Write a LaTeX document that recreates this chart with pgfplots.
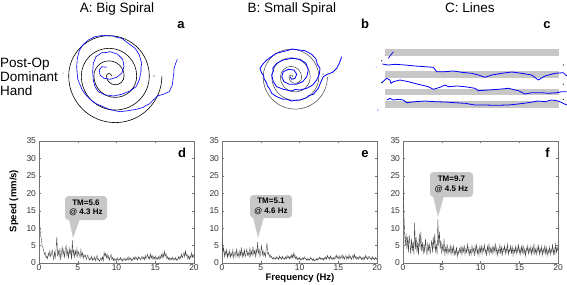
\documentclass[border=0pt]{standalone}
\usepackage{fontspec}
\setmainfont{Liberation Sans}
\usepackage{pgfplots}
\pgfplotsset{compat=1.18}
\begin{document}
\begin{tikzpicture}
\pgfplotsset{
  spec/.style={
    scale only axis, width=155pt, height=122pt,
    xmin=0,xmax=20,ymin=0,ymax=35,
    xtick={0,5,10,15,20}, ytick={0,5,...,35},
    tick align=inside, major tick length=2pt,
    axis line style={black!55, line width=0.4pt},
    every tick/.style={black!55, line width=0.4pt},
    tick label style={font=\fontsize{8.5}{9}\selectfont, text=black!80},
    xticklabel style={yshift=1.8pt},
    yticklabel style={xshift=0.5pt},
    /pgf/number format/assume math mode=true,
    clip=true,
  },
  trace/.style={black!75, line width=0.35pt, mark=none},
}
% ---------- panel d ----------
\begin{axis}[spec, at={(39pt,21pt)}, anchor=south west]
\addplot[trace] coordinates {
(0,14)(0.1,11)(0.2,8)(0.3,7)(0.4,5)(0.5,4.5)(0.6,3.5)(0.7,2.5)(0.8,3.0)(0.9,1.5)
(1.0,2.0)(1.1,1.2)(1.2,2.8)(1.3,2.0)(1.4,3.5)(1.5,1.8)(1.6,2.5)(1.7,3.8)(1.8,2.2)(1.9,1.0)
(2.0,3.2)(2.1,1.5)(2.2,4.0)(2.3,7.5)(2.4,2.0)(2.5,3.5)(2.6,1.8)(2.7,4.2)(2.8,0.8)(2.9,3.0)
(3.0,4.5)(3.1,2.2)(3.2,3.8)(3.3,1.5)(3.4,4.0)(3.5,5.0)(3.6,2.0)(3.7,3.6)(3.8,1.2)(3.9,4.2)
(4.0,2.5)(4.1,3.8)(4.2,1.0)(4.3,6.5)(4.4,2.0)(4.5,4.0)(4.6,1.5)(4.7,3.5)(4.8,2.2)(4.9,4.2)
(5.0,1.8)(5.1,3.2)(5.2,2.5)(5.3,1.5)(5.4,3.8)(5.5,2.0)(5.6,3.0)(5.7,1.2)(5.8,2.5)(5.9,1.8)
(6.0,2.2)(6.1,1.0)(6.2,1.8)(6.3,2.3)(6.4,1.2)(6.5,0.8)(6.6,1.5)(6.7,1.0)(6.8,2.0)(6.9,0.7)
(7.0,1.3)(7.1,0.9)(7.2,1.8)(7.3,0.6)(7.4,1.4)(7.5,2.2)(7.6,0.8)(7.7,1.2)(7.8,0.5)(7.9,1.0)
(8.0,1.5)(8.1,0.8)(8.2,1.8)(8.3,0.6)(8.4,3.0)(8.5,2.0)(8.6,2.8)(8.7,1.5)(8.8,2.5)(8.9,1.2)
(9.0,2.0)(9.1,0.8)(9.2,1.8)(9.3,2.5)(9.4,1.0)(9.5,1.6)(9.6,0.7)(9.7,1.3)(9.8,0.6)(9.9,1.1)
(10.0,0.8)(10.1,1.5)(10.2,0.6)(10.3,1.2)(10.4,0.9)(10.5,1.6)(10.6,0.7)(10.7,1.3)(10.8,0.5)(10.9,1.0)
(11.0,1.4)(11.1,0.6)(11.2,1.2)(11.3,0.8)(11.4,1.5)(11.5,0.7)(11.6,1.8)(11.7,1.0)(11.8,1.4)(11.9,0.6)
(12.0,1.2)(12.1,0.8)(12.2,1.6)(12.3,1.0)(12.4,1.9)(12.5,1.1)(12.6,1.5)(12.7,0.8)(12.8,1.8)(12.9,1.2)
(13.0,1.6)(13.1,0.9)(13.2,1.4)(13.3,2.0)(13.4,1.1)(13.5,1.7)(13.6,0.9)(13.7,2.2)(13.8,1.2)(13.9,1.8)
(14.0,2.5)(14.1,1.3)(14.2,2.0)(14.3,1.0)(14.4,2.6)(14.5,1.4)(14.6,2.2)(14.7,1.0)(14.8,1.8)(14.9,1.2)
(15.0,2.0)(15.1,0.9)(15.2,1.6)(15.3,1.1)(15.4,1.8)(15.5,1.0)(15.6,2.1)(15.7,1.3)(15.8,2.5)(15.9,1.5)
(16.0,2.8)(16.1,1.6)(16.2,3.4)(16.3,2.0)(16.4,2.6)(16.5,1.2)(16.6,1.9)(16.7,1.0)(16.8,1.6)(16.9,0.8)
(17.0,1.4)(17.1,1.0)(17.2,1.7)(17.3,0.8)(17.4,1.3)(17.5,1.0)(17.6,1.6)(17.7,0.7)(17.8,1.2)(17.9,0.9)
(18.0,1.8)(18.1,1.1)(18.2,2.0)(18.3,1.3)(18.4,2.6)(18.5,1.5)(18.6,2.2)(18.7,3.0)(18.8,1.8)(18.9,3.5)
(19.0,2.0)(19.1,2.6)(19.2,1.2)(19.3,2.0)(19.4,1.0)(19.5,2.2)(19.6,1.4)(19.7,3.0)(19.8,1.6)(19.9,2.4)
(20.0,1.5)};
\end{axis}
% ---------- panel e ----------
\begin{axis}[spec, at={(222pt,21pt)}, anchor=south west]
\addplot[trace] coordinates {
(0,7.5)(0.1,3)(0.2,4.5)(0.3,1.8)(0.4,3.5)(0.5,2.2)(0.6,3.8)(0.7,1.5)(0.8,3.0)(0.9,2.0)
(1.0,3.6)(1.1,1.6)(1.2,2.8)(1.3,2.0)(1.4,3.8)(1.5,1.5)(1.6,2.6)(1.7,3.2)(1.8,1.8)(1.9,4.2)
(2.0,2.0)(2.1,2.8)(2.2,1.5)(2.3,3.5)(2.4,2.2)(2.5,4.5)(2.6,1.6)(2.7,3.2)(2.8,2.0)(2.9,3.8)
(3.0,1.8)(3.1,2.6)(3.2,4.0)(3.3,2.2)(3.4,3.0)(3.5,1.8)(3.6,4.5)(3.7,2.0)(3.8,3.4)(3.9,2.2)
(4.0,4.8)(4.1,2.5)(4.2,3.6)(4.3,1.8)(4.4,4.0)(4.5,2.5)(4.6,6.0)(4.7,2.8)(4.8,3.8)(4.9,1.8)
(5.0,3.2)(5.1,5.0)(5.2,2.4)(5.3,3.6)(5.4,2.0)(5.5,3.0)(5.6,1.8)(5.7,4.0)(5.8,5.8)(5.9,2.5)
(6.0,3.0)(6.1,1.8)(6.2,2.4)(6.3,1.5)(6.4,1.9)(6.5,1.2)(6.6,1.6)(6.7,1.0)(6.8,1.5)(6.9,1.1)
(7.0,1.8)(7.1,1.2)(7.2,1.6)(7.3,1.0)(7.4,2.0)(7.5,1.3)(7.6,1.7)(7.7,1.0)(7.8,1.9)(7.9,1.2)
(8.0,1.5)(8.1,1.0)(8.2,1.8)(8.3,1.1)(8.4,2.2)(8.5,1.4)(8.6,1.9)(8.7,1.2)(8.8,2.0)(8.9,1.3)
(9.0,2.4)(9.1,1.5)(9.2,2.8)(9.3,1.4)(9.4,2.5)(9.5,1.2)(9.6,1.8)(9.7,0.9)(9.8,1.5)(9.9,1.0)
(10.0,1.6)(10.1,0.8)(10.2,1.3)(10.3,0.9)(10.4,1.5)(10.5,1.0)(10.6,1.8)(10.7,1.2)(10.8,1.4)(10.9,0.8)
(11.0,1.3)(11.1,0.7)(11.2,1.2)(11.3,0.8)(11.4,1.6)(11.5,1.0)(11.6,1.4)(11.7,0.7)(11.8,1.2)(11.9,0.6)
(12.0,1.0)(12.1,0.7)(12.2,1.3)(12.3,0.8)(12.4,1.5)(12.5,1.0)(12.6,1.7)(12.7,1.1)(12.8,1.5)(12.9,0.9)
(13.0,1.4)(13.1,0.8)(13.2,1.6)(13.3,1.0)(13.4,1.8)(13.5,1.1)(13.6,2.2)(13.7,1.3)(13.8,1.7)(13.9,1.0)
(14.0,2.0)(14.1,1.2)(14.2,1.6)(14.3,0.9)(14.4,1.5)(14.5,1.1)(14.6,2.0)(14.7,1.3)(14.8,2.3)(14.9,1.4)
(15.0,1.8)(15.1,1.0)(15.2,2.1)(15.3,1.3)(15.4,1.6)(15.5,2.4)(15.6,1.2)(15.7,2.0)(15.8,1.1)(15.9,1.7)
(16.0,2.2)(16.1,1.0)(16.2,1.8)(16.3,1.2)(16.4,2.4)(16.5,1.3)(16.6,1.9)(16.7,1.0)(16.8,1.6)(16.9,2.3)
(17.0,1.2)(17.1,2.5)(17.2,1.4)(17.3,1.9)(17.4,1.0)(17.5,1.6)(17.6,1.1)(17.7,2.0)(17.8,1.3)(17.9,1.8)
(18.0,1.0)(18.1,1.5)(18.2,0.9)(18.3,1.7)(18.4,1.1)(18.5,2.2)(18.6,1.3)(18.7,1.8)(18.8,1.0)(18.9,1.6)
(19.0,2.0)(19.1,1.2)(19.2,1.5)(19.3,0.9)(19.4,1.8)(19.5,1.1)(19.6,1.5)(19.7,0.9)(19.8,1.6)(19.9,1.0)
(20.0,1.4)};
\end{axis}
% ---------- panel f ----------
\begin{axis}[spec, at={(403pt,21pt)}, anchor=south west]
\addplot[trace] coordinates {
(0,22)(0.1,15)(0.2,9)(0.3,5)(0.4,8.5)(0.5,4)(0.6,7.5)(0.7,3)(0.8,8)(0.9,5.5)
(1.0,2.5)(1.1,7)(1.2,3.5)(1.3,6)(1.4,2.5)(1.5,11.5)(1.6,4)(1.7,7.5)(1.8,3)(1.9,6)
(2.0,2.2)(2.1,8.5)(2.2,4)(2.3,9)(2.4,3.5)(2.5,6)(2.6,2.5)(2.7,5.5)(2.8,3)(2.9,7)
(3.0,4)(3.1,2.2)(3.2,6)(3.3,3.5)(3.4,5.5)(3.5,2.5)(3.6,4.5)(3.7,6.5)(3.8,3)(3.9,7.5)
(4.0,4)(4.1,8.5)(4.2,3)(4.3,5.5)(4.4,2.5)(4.5,12.5)(4.6,5)(4.7,9)(4.8,4)(4.9,6.5)
(5.0,2.5)(5.1,5)(5.2,3.5)(5.3,7)(5.4,2)(5.5,4.5)(5.6,3)(5.7,5.5)(5.8,2.5)(5.9,4)
(6.0,3.2)(6.1,5)(6.2,2.2)(6.3,4.5)(6.4,3)(6.5,5.2)(6.6,2)(6.7,3.8)(6.8,2.6)(6.9,4.6)
(7.0,1.8)(7.1,3.5)(7.2,2.5)(7.3,4.2)(7.4,3)(7.5,5)(7.6,2.2)(7.7,4.4)(7.8,3.2)(7.9,5.2)
(8.0,2.4)(8.1,4)(8.2,3)(8.3,5.6)(8.4,2.8)(8.5,4.5)(8.6,2.2)(8.7,3.8)(8.8,2.5)(8.9,5)
(9.0,3.2)(9.1,4.2)(9.2,2)(9.3,4.8)(9.4,3)(9.5,5.4)(9.6,2.6)(9.7,4)(9.8,2.2)(9.9,4.6)
(10.0,3)(10.1,5.2)(10.2,2.4)(10.3,4.4)(10.4,3.4)(10.5,5.5)(10.6,2.8)(10.7,4)(10.8,2)(10.9,4.8)
(11.0,3.2)(11.1,5.6)(11.2,2.6)(11.3,4.2)(11.4,3)(11.5,5)(11.6,2.4)(11.7,4.6)(11.8,3.4)(11.9,5.8)
(12.0,2.8)(12.1,4.4)(12.2,2.2)(12.3,4)(12.4,3)(12.5,5.4)(12.6,2.6)(12.7,4.8)(12.8,2)(12.9,4.2)
(13.0,3.4)(13.1,5)(13.2,2.6)(13.3,4.4)(13.4,3)(13.5,5.6)(13.6,2.4)(13.7,4)(13.8,3.2)(13.9,5.2)
(14.0,2.6)(14.1,4.6)(14.2,2.2)(14.3,4)(14.4,3)(14.5,5)(14.6,2.4)(14.7,4.4)(14.8,3.2)(14.9,5.4)
(15.0,2.8)(15.1,4.2)(15.2,2.4)(15.3,4.8)(15.4,3)(15.5,5.2)(15.6,2.6)(15.7,4)(15.8,2)(15.9,4.4)
(16.0,3.2)(16.1,5)(16.2,2.6)(16.3,4.2)(16.4,3)(16.5,4.8)(16.6,2.2)(16.7,4.4)(16.8,3)(16.9,5.6)
(17.0,2.6)(17.1,4)(17.2,2.4)(17.3,4.6)(17.4,3.2)(17.5,5)(17.6,2.4)(17.7,4.2)(17.8,3)(17.9,4.8)
(18.0,2.2)(18.1,4)(18.2,3)(18.3,5.2)(18.4,2.6)(18.5,4.4)(18.6,2)(18.7,3.8)(18.8,2.8)(18.9,4.6)
(19.0,2.4)(19.1,4)(19.2,3)(19.3,5.5)(19.4,2.6)(19.5,4.2)(19.6,2.2)(19.7,5.8)(19.8,3)(19.9,4.5)
(20.0,3.5)};
\end{axis}
% ---------- overlay (pixel coordinates, y downward) ----------
\begin{axis}[hide axis, scale only axis, x=1pt, y=1pt, y dir=reverse,
  xmin=0, xmax=567, ymin=0, ymax=284, clip=false,
  at={(0pt,0pt)}, anchor=south west]
% titles
\node[anchor=base, font=\fontsize{13.5}{14}\selectfont] at (axis cs:117,12) {A: Big Spiral};
\node[anchor=base, font=\fontsize{13.5}{14}\selectfont] at (axis cs:292,12) {B: Small Spiral};
\node[anchor=base, font=\fontsize{13.5}{14}\selectfont] at (axis cs:470,12) {C: Lines};
\node[anchor=base, font=\bfseries\fontsize{13}{14}\selectfont] at (axis cs:181,28.5) {a};
\node[anchor=base, font=\bfseries\fontsize{13}{14}\selectfont] at (axis cs:365,28.5) {b};
\node[anchor=base, font=\bfseries\fontsize{13}{14}\selectfont] at (axis cs:547,28.5) {c};
\node[anchor=base west, inner sep=0pt, font=\fontsize{13.5}{14}\selectfont] at (axis cs:0,67) {Post-Op};
\node[anchor=base west, inner sep=0pt, font=\fontsize{13.5}{14}\selectfont] at (axis cs:0,81) {Dominant};
\node[anchor=base west, inner sep=0pt, font=\fontsize{13.5}{14}\selectfont] at (axis cs:0,95.5) {Hand};
% panel letters d e f
\node[anchor=base, font=\bfseries\fontsize{13}{14}\selectfont] at (axis cs:182,157) {d};
\node[anchor=base, font=\bfseries\fontsize{13}{14}\selectfont] at (axis cs:365,157) {e};
\node[anchor=base, font=\bfseries\fontsize{13}{14}\selectfont] at (axis cs:547.5,157) {f};
% axis labels
\node[rotate=90, font=\bfseries\fontsize{9.5}{10}\selectfont] at (axis cs:14,201) {Speed (mm/s)};
\node[anchor=base, inner sep=0pt, font=\bfseries\fontsize{9.5}{10}\selectfont] at (axis cs:300,280.5) {Frequency (Hz)};
% callouts
\fill[black!22, rounded corners=3.5pt] (axis cs:65,196) rectangle (axis cs:107,220);
\fill[black!22] (axis cs:69,219) -- (axis cs:80,219) -- (axis cs:73,238) -- cycle;
\node[align=center, inner sep=0pt, font=\bfseries\fontsize{8}{9.5}\selectfont] at (axis cs:86,208) {TM=5.6\\@ 4.3 Hz};
\fill[black!22, rounded corners=3.5pt] (axis cs:250,195) rectangle (axis cs:292,218);
\fill[black!22] (axis cs:253,217) -- (axis cs:264,217) -- (axis cs:258,238) -- cycle;
\node[align=center, inner sep=0pt, font=\bfseries\fontsize{8}{9.5}\selectfont] at (axis cs:271,206.5) {TM=5.1\\@ 4.6 Hz};
\fill[black!22, rounded corners=3.5pt] (axis cs:430,172) rectangle (axis cs:473,197);
\fill[black!22] (axis cs:433,196) -- (axis cs:444,196) -- (axis cs:438,217) -- cycle;
\node[align=center, inner sep=0pt, font=\bfseries\fontsize{8}{9.5}\selectfont] at (axis cs:451.5,184.5) {TM=9.7\\@ 4.5 Hz};
% ----- Big spiral template -----
\draw[black, line width=0.6pt] (axis cs:111.5,76)
  arc[start angle=0,end angle=180,radius=2.5pt]
  arc[start angle=180,end angle=360,radius=8.8pt]
  arc[start angle=0,end angle=180,radius=15.1pt]
  arc[start angle=180,end angle=360,radius=21.4pt]
  arc[start angle=0,end angle=180,radius=27.7pt]
  arc[start angle=180,end angle=360,radius=34pt]
  arc[start angle=0,end angle=180,radius=40.3pt]
  arc[start angle=180,end angle=360,radius=46.6pt];
\fill[black] (axis cs:154,76) circle[radius=0.7pt];
\fill[black!60] (axis cs:63,73) circle[radius=0.5pt];
\addplot[blue, line width=0.6pt, mark=none] coordinates {
(177.3,59.3)(175.7,63.3)(174.5,67)(174,69.3)(173.8,73)(173.3,76.7)(172.8,81)(172.3,85)(169.3,91.7)(166,93)(163.3,94.3)
(157.3,96)(155,98.5)(153.3,100)(149.3,104)(146,105.5)(143.3,107.3)(136.7,109.3)(132,110)(128.3,110.7)(120,111.7)
(111.7,110)(107,108.5)(103.3,106.7)(96.7,104)(91.7,100.7)(86.7,96)(82.7,90.7)(79.3,83.3)(77.8,79)(77.3,75)(76.7,66.7)
(77.3,58.3)(79.3,50.7)(82.7,45)(88.3,40)(95,36.7)(99,36)(103.3,35.3)(108,35.8)(113.3,36)(117,37.5)(121.7,38.3)(128.3,43.3)
(135,48.3)(137.5,52)(139.3,55)(141.7,63.3)(141,67)(141,71.7)(139.3,80)(136,86.7)(130,91)(126,92.5)(121.7,94.3)
(113.3,96)(109,95.2)(105,95)(98.3,91.7)(95,86.7)(93.3,80)(92.7,71.7)(93.3,63.3)(96,56.7)(101.7,52.7)(106,52.5)
(110,51.7)(117.3,54)(122.7,59.3)(124,66.7)(121.7,73.3)(116.7,77.3)(110,79.3)(104,78.3)(100,75)(99.3,70)
(101.7,66.7)(106.7,67.3)};
% ----- Small spiral template -----
\draw[black!75, line width=0.5pt] (axis cs:293,77)
  arc[start angle=0,end angle=180,radius=2pt]
  arc[start angle=180,end angle=360,radius=6.3pt]
  arc[start angle=0,end angle=180,radius=10.6pt]
  arc[start angle=180,end angle=360,radius=14.9pt]
  arc[start angle=0,end angle=180,radius=19.2pt]
  arc[start angle=180,end angle=360,radius=23.5pt]
  arc[start angle=0,end angle=180,radius=27.8pt]
  arc[start angle=180,end angle=360,radius=32.1pt];
\fill[black!80] (axis cs:323,74) circle[radius=0.6pt];
\fill[blue!70] (axis cs:376,67) circle[radius=0.5pt];
\fill[blue!70] (axis cs:378,109) circle[radius=0.5pt];
\addplot[blue, line width=0.8pt, mark=none] coordinates {
(341.7,56.7)(339.3,63.3)(336.7,68.3)(332.7,72.3)(327.3,74.3)(323.3,76.7)(321,81.7)(318.3,88.3)(313.3,94.3)(309,95.5)
(306.7,97.7)(300,100)(295,100.2)(291.7,101)(286,99)(283.3,99.3)(276.7,96.7)(271.7,93.3)(269.3,88.3)(267.5,86)
(266.7,83.3)(264,78.3)(263.5,75)(261.7,73.3)(260,68.3)(262.7,64.3)(266.7,60)(272.7,55.7)(276,53.5)(280,52.3)
(288.3,50.3)(292,49)(296.7,49.7)(305,50.7)(311.7,54.3)(316,59)(317.3,64.3)(320,68.3)(319.3,74.3)(316.7,80)
(312.7,85)(306.7,88.3)(300,90)(295,89.5)(291.7,91)(283.3,89.3)(276.7,86.7)(273.3,81.7)(271.7,75)(273.5,71)
(272.7,68.3)(276.7,63.3)(283.3,60)(291.7,58.3)(300,59.3)(306,63.3)(308.3,70)(306.7,76.7)(302.7,81.7)(296,84.3)
(289.3,84.3)(284,81.7)(281.7,76.7)(283.3,71.7)(288.3,69.3)(294,70)(296.7,74.3)(295,78.3)(291.7,79.3)(290,76.7)};
% ----- Lines panel -----
\fill[black!22] (axis cs:385,49) rectangle (axis cs:559,56);
\fill[black!22] (axis cs:385,71) rectangle (axis cs:559,78.3);
\fill[black!22] (axis cs:385,89.3) rectangle (axis cs:559,95);
\fill[black!22] (axis cs:385,101) rectangle (axis cs:559,107.7);
\fill[black] (axis cs:381.7,60.7) circle[radius=0.6pt];
\fill[black] (axis cs:381.7,82.7) circle[radius=0.6pt];
\fill[black] (axis cs:563.3,65) circle[radius=0.6pt];
\fill[black] (axis cs:563.3,84.3) circle[radius=0.6pt];
\fill[black] (axis cs:563.3,99.3) circle[radius=0.6pt];
\fill[blue!70] (axis cs:377.7,110.7) circle[radius=0.5pt];
\addplot[blue, line width=0.7pt, mark=none] coordinates {(388.3,58.3)(393.3,51.7)};
\addplot[blue, line width=0.8pt, mark=none] coordinates {
(382.3,64)(388.3,65)(395,64.3)(405,65)(415,66)(425,66.7)(433.3,67.3)(436.7,71.7)(445,71.7)(453.3,71)
(461.7,72.3)(471.7,73.3)(478.3,75)(485,77.3)(491.7,75)(501.7,73.3)(511.7,72)(521.7,73.3)(531.7,75)(538.3,80)
(545,76)(555,73.3)(563.3,72.7)(566.7,76)};
\addplot[blue, line width=0.8pt, mark=none] coordinates {
(381.7,82.7)(386.7,78.3)(390,80)(391,83.3)(393.3,81.7)(400,80)(408.3,81.7)(418.3,84.3)(428.3,86.7)(433.3,89.3)
(440,87.3)(445,85)(448.3,86.7)(456.7,86)(465,86.7)(475,88.3)(478.3,90.7)(488.3,90)(498.3,89.3)(508.3,88.3)
(518.3,90.7)(525,94)(531.7,92.7)(541.7,92.7)(548.3,93.3)(556.7,92.7)(561.7,91.7)(566.7,91.7)};
\addplot[blue, line width=0.8pt, mark=none] coordinates {
(386.7,100)(390,98.3)(393.3,100)(398.3,99.3)(403.3,100)(406.7,102.7)(415,101.7)(425,101)(435,101.7)(445,102)
(455,102.7)(465,103.3)(475,105)(485,105)(495,105.3)(508.3,105)(518.3,104)(528.3,102.7)(538.3,101)(545,101.7)
(551.7,100)(558.3,101)(566.7,105)};
\end{axis}
\pgfresetboundingbox
\path[use as bounding box] (0pt,0pt) rectangle (567pt,284pt);
\end{tikzpicture}
\end{document}
